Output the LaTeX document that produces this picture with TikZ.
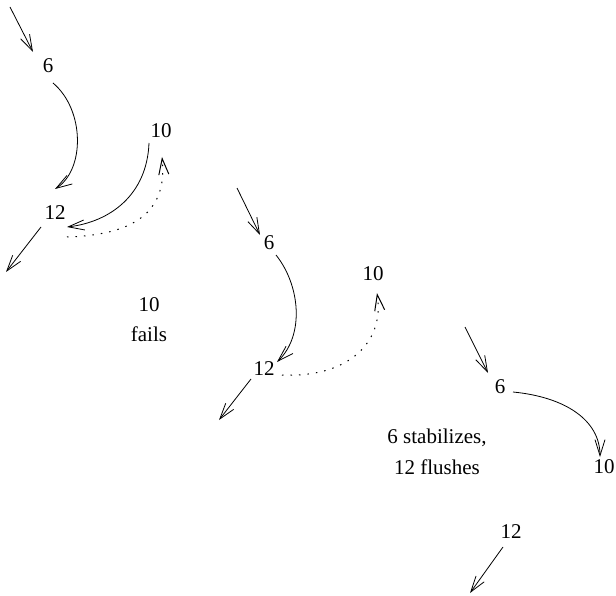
\documentclass[tikz,border=0pt]{standalone}
\usepackage{fontspec}
\setmainfont{Liberation Serif}
\usetikzlibrary{arrows.meta}
\begin{document}
\begin{tikzpicture}[x=1pt,y=-1pt,
  lbl/.style={inner sep=0pt,font=\fontsize{21}{30}\selectfont},
  con/.style={line width=0.8pt},
  arr/.style={con,-{Straight Barb[length=16pt,width=10pt]}},
  dotarr/.style={arr,line width=1pt,dash pattern=on 1.5pt off 7pt}]
\useasboundingbox (0,0) rectangle (616,596);
% group 1
\node[lbl] (g1a) at (48,66) {6};
\node[lbl] (g1b) at (55,213) {12};
\node[lbl] (g1c) at (161,131) {10};
\draw[arr] ([shift={(-38,-59)}]g1a.center) -- ([shift={(-15,-14)}]g1a.center);
\draw[arr] ([shift={(5,17)}]g1a.center) .. controls (85,110) and (85,170) .. ([shift={(0,-24)}]g1b.center);
\draw[arr] ([shift={(-12,12)}]g1c.center) .. controls (147,195) and (110,222) .. ([shift={(12,14)}]g1b.center);
\draw[dotarr] ([shift={(12,24)}]g1b.center) .. controls (130,235) and (168,215) .. ([shift={(1,26)}]g1c.center);
\draw[arr] ([shift={(-14,14)}]g1b.center) -- ([shift={(-49,59)}]g1b.center);
\node[lbl,align=center] (t1) at (149,320) {10\\fails};
% group 2
\node[lbl] (g2a) at (269,243) {6};
\node[lbl] (g2b) at (264,369) {12};
\node[lbl] (g2c) at (373,274) {10};
\draw[arr] ([shift={(-32,-55)}]g2a.center) -- ([shift={(-9,-8)}]g2a.center);
\draw[arr] ([shift={(7,12)}]g2a.center) .. controls (300,285) and (305,335) .. ([shift={(13,-7)}]g2b.center);
\draw[dotarr] ([shift={(18,6)}]g2b.center) .. controls (345,378) and (385,345) .. ([shift={(4,19)}]g2c.center);
\draw[arr] ([shift={(-13,10)}]g2b.center) -- ([shift={(-45,51)}]g2b.center);
% group 3
\node[lbl] (g3a) at (500,387) {6};
\node[lbl] (g3b) at (604,467) {10};
\node[lbl] (g3c) at (511,532) {12};
\draw[arr] ([shift={(-35,-60)}]g3a.center) -- ([shift={(-12,-14)}]g3a.center);
\draw[arr] ([shift={(13,5)}]g3a.center) .. controls (565,397) and (600,420) .. ([shift={(-4,-10)}]g3b.center);
\draw[arr] ([shift={(-8,15)}]g3c.center) -- ([shift={(-41,61)}]g3c.center);
\node[lbl,align=center,font=\fontsize{21}{31}\selectfont] (t2) at (437,452) {6 stabilizes,\\12 flushes};
\end{tikzpicture}
\end{document}
